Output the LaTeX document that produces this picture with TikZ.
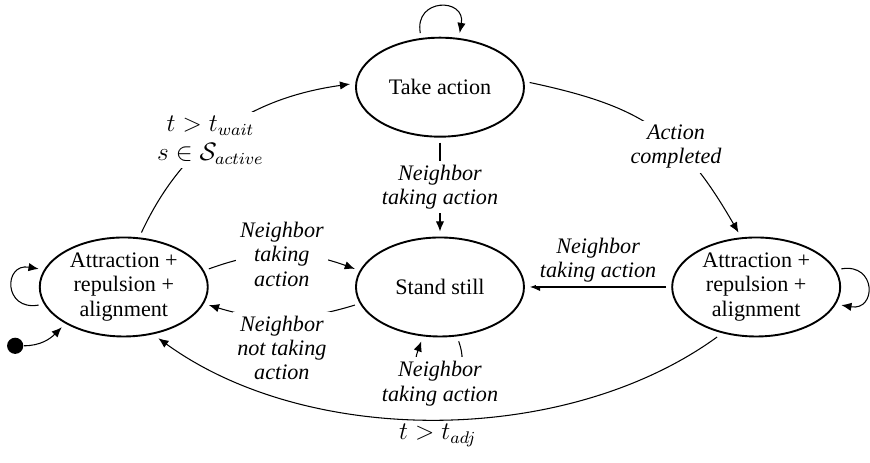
\documentclass[tikz,border=0pt]{standalone}
\usepackage{amsmath, amssymb}
\usepackage{fontspec}
\setmainfont{Liberation Serif}
\usepackage{tikz}
\usetikzlibrary{positioning, arrows.meta, shapes.geometric}
\tikzset{
  state/.style={
    draw,
    ellipse,
    line width=0.9pt,
    minimum width=2.8cm,
    minimum height=1.65cm,
    inner sep=0pt,
    outer sep=1mm,
    align=center,
    font=\fontsize{10.5}{11.5}\selectfont
  },
  lbl/.style={
    font=\itshape\fontsize{10.5}{11.5}\selectfont,
    align=center,
    fill=white,
    inner sep=2pt
  },
  mlbl/.style={
    font=\fontsize{11.8}{13.5}\selectfont,
    align=center,
    fill=white,
    inner sep=2pt
  },
  initdot/.style={
    circle,
    fill=black,
    minimum size=0.27cm,
    inner sep=0pt
  }
}

\begin{document}
\begin{tikzpicture}[>={Latex[length=1.7mm, width=1.4mm]}, on grid, line width=0.5pt]
    \useasboundingbox (-7.333,-2.917) rectangle (7.167,4.783);
    \node[state] (stand) at (0,0) {Stand still};
    \node[state, above=3.33cm of stand] (take) {Take action};
    \node[state, left=5.27cm of stand] (attl) {Attraction +\\ repulsion +\\ alignment};
    \node[state, right=5.27cm of stand] (attr) {Attraction +\\ repulsion +\\ alignment};
    \node[initdot] (init) at (-7.08,-0.98) {};

    % start and self loops
    \draw[->] (init) to[out=0, in=225] (attl.213);
    \draw[->] (attl.192) .. controls +(190:0.6) and +(170:0.6) .. (attl.168);
    \draw[->] (take.110) .. controls +(100:0.6) and +(80:0.6) .. (take.70);
    \draw[->] (attr.12) .. controls +(10:0.6) and +(-10:0.6) .. (attr.-12);
    \draw[->] (stand.289) .. controls +(-70:1) and +(-110:1) .. (stand.251)
        node[lbl, pos=0.5] {Neighbor\\ taking action};

    % transitions
    \draw[->] (attl.72) to[out=65, in=188]
        node[mlbl, pos=0.43] {$t > t_{wait}$\\ $s \in \mathcal{S}_{active}$} (take.178);
    \draw[->] (take.3) to[out=-12, in=120, looseness=1.15]
        node[lbl, pos=0.62] {Action\\ completed} (attr.108);
    \draw[->] (take) -- node[lbl] {Neighbor\\ taking action} (stand);
    \draw[->] (attl.12) to[out=20, in=160] node[lbl] {Neighbor\\ taking\\ action} (stand.168);
    \draw[->] (stand.192) to[out=197, in=-17]
        node[lbl, below=-3pt] {Neighbor\\ not taking\\ action} (attl.348);
    \draw[->] (attr) -- node[lbl, above] {Neighbor\\ taking action} (stand);
    \draw[->] (attr.232) to[out=-144, in=-36, looseness=0.85]
        node[mlbl, below, fill=none] {$t > t_{adj}$} (attl.304);
\end{tikzpicture}
\end{document}
